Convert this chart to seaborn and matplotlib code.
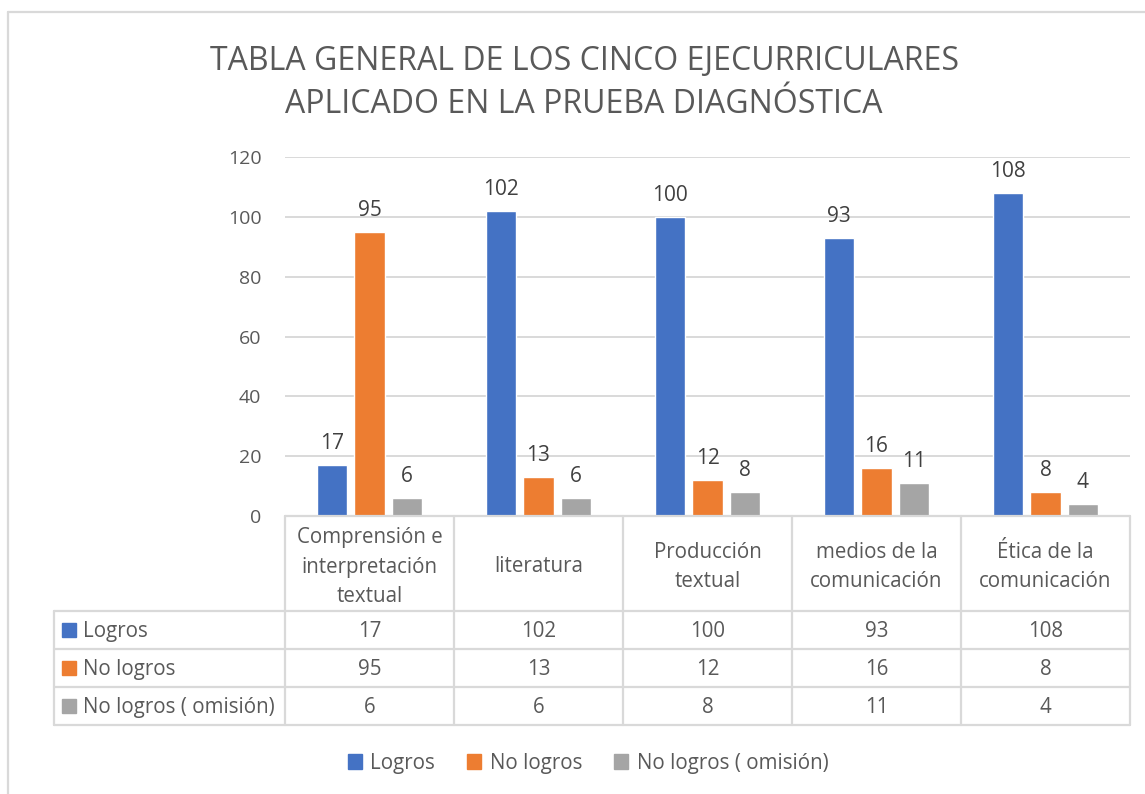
import numpy as np
import pandas as pd
import matplotlib
matplotlib.use("Agg")
import matplotlib.pyplot as plt
import matplotlib.transforms as mtransforms
from matplotlib.lines import Line2D
from matplotlib.patches import Patch, Rectangle
import seaborn as sns

# data
categories = ["Comprensión e\ninterpretación\ntextual", "literatura", "Producción\ntextual",
              "medios de la\ncomunicación", "Ética de la\ncomunicación"]
series_names = ["Logros", "No logros", "No logros ( omisión)"]
logros = [17, 102, 100, 93, 108]
no_logros = [95, 13, 12, 16, 8]
omision = [6, 6, 8, 11, 4]
y_ticks = [0, 20, 40, 60, 80, 100, 120]
title = "TABLA GENERAL DE LOS CINCO EJECURRICULARES\nAPLICADO EN LA PRUEBA DIAGNÓSTICA"

colors = ["#4472C4", "#ED7D31", "#A5A5A5"]
grid_c = "#D9D9D9"
text_c = "#595959"

sns.set_theme(style="white")
plt.rcParams["font.family"] = ["Open Sans", "DejaVu Sans"]

W, H = 1145, 794
fig = plt.figure(figsize=(W / 100, H / 100), dpi=100)


def fx(px):
    return px / W


def fy(py):
    return 1 - py / H


ax = fig.add_axes([fx(285), fy(516), fx(1130) - fx(285), fy(157) - fy(516)])

df = pd.DataFrame({
    "cat": categories * 3,
    "serie": np.repeat(series_names, len(categories)),
    "valor": logros + no_logros + omision,
})
sns.barplot(data=df, x="cat", y="valor", hue="serie", order=categories,
            hue_order=series_names, palette=colors, saturation=1,
            width=0.66, gap=0.19, ax=ax, legend=False, zorder=3)

for cont in ax.containers:
    ax.bar_label(cont, padding=8, fontsize=15, color="#404040")

ax.set_ylim(0, 120)
ax.set_xlim(-0.5, len(categories) - 0.5)
ax.set_yticks(y_ticks)
ax.set_xticks([])
ax.set_xlabel("")
ax.set_ylabel("")
ax.grid(axis="y", color=grid_c, lw=1.4, zorder=0)
ax.set_axisbelow(True)
for s in ax.spines.values():
    s.set_visible(False)
ax.tick_params(axis="y", length=0, pad=17, labelsize=14, labelcolor=text_c)

fig.text(fx(584), fy(83), title, ha="center", va="center", fontsize=23,
         color=text_c, linespacing=1.38)

# data table under the axis
trans = mtransforms.blended_transform_factory(ax.transData, fig.transFigure)
rows_y = [611, 649, 687, 725]
fig.add_artist(Line2D([fx(285), fx(1130)], [fy(516)] * 2, color=grid_c, lw=1.6,
                      transform=fig.transFigure))
for yy in rows_y:
    fig.add_artist(Line2D([fx(54), fx(1130)], [fy(yy)] * 2, color=grid_c, lw=1.6,
                          transform=fig.transFigure))
fig.add_artist(Line2D([fx(54), fx(54)], [fy(611), fy(725)], color=grid_c, lw=1.6,
                      transform=fig.transFigure))
for i in range(len(categories) + 1):
    ax.add_line(Line2D([i - 0.5, i - 0.5], [fy(516), fy(725)], color=grid_c, lw=1.6,
                       transform=trans, clip_on=False))

for i, cat in enumerate(categories):
    ax.text(i, fy(567), cat, transform=trans, ha="center", va="center",
            fontsize=14.8, color=text_c, linespacing=1.5)

table_vals = [logros, no_logros, omision]
for r, (name, vals, col) in enumerate(zip(series_names, table_vals, colors)):
    yc = (rows_y[r] + rows_y[r + 1]) / 2
    fig.add_artist(Rectangle((fx(62), fy(yc + 7)), fx(14), fy(yc - 7) - fy(yc + 7),
                             color=col, transform=fig.transFigure))
    fig.text(fx(83), fy(yc + 1.5), name, ha="left", va="center", fontsize=14.8, color=text_c)
    for i, v in enumerate(vals):
        ax.text(i, fy(yc + 1.5), str(v), transform=trans, ha="center", va="center",
                fontsize=14.8, color=text_c)

handles = [Patch(color=c, label=n) for c, n in zip(colors, series_names)]
fig.legend(handles=handles, loc="center", bbox_to_anchor=(fx(588), fy(763)),
           ncol=3, frameon=False, fontsize=14.8, handlelength=0.7, handleheight=0.7,
           handletextpad=0.4, columnspacing=1.55, labelcolor=text_c)

# outer chart border
fig.add_artist(Line2D([fx(8), fx(8)], [fy(12), 0], color=grid_c, lw=1.6,
                      transform=fig.transFigure))
fig.add_artist(Line2D([fx(8), 1], [fy(12), fy(12)], color=grid_c, lw=1.6,
                      transform=fig.transFigure))

fig.savefig("out.png", dpi=100)
